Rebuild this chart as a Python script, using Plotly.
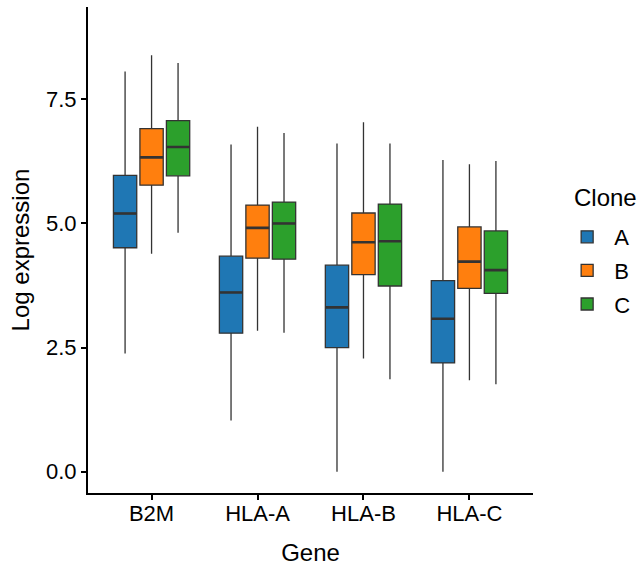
import plotly.graph_objects as go

genes = ["B2M", "HLA-A", "HLA-B", "HLA-C"]
clones = ["A", "B", "C"]
colors = ["#1f77b4", "#ff7f0e", "#2ca02c"]

lower = {"A": [2.38, 1.03, 0.00, 0.00],
         "B": [4.39, 2.84, 2.28, 1.84],
         "C": [4.81, 2.80, 1.86, 1.76]}
q1 = {"A": [4.51, 2.79, 2.50, 2.19],
      "B": [5.77, 4.30, 3.97, 3.69],
      "C": [5.96, 4.28, 3.74, 3.59]}
med = {"A": [5.20, 3.61, 3.31, 3.08],
       "B": [6.33, 4.91, 4.62, 4.23],
       "C": [6.54, 5.00, 4.64, 4.06]}
q3 = {"A": [5.97, 4.34, 4.16, 3.85],
      "B": [6.91, 5.37, 5.21, 4.93],
      "C": [7.07, 5.43, 5.39, 4.85]}
upper = {"A": [8.06, 6.59, 6.61, 6.28],
         "B": [8.39, 6.95, 7.04, 6.19],
         "C": [8.23, 6.82, 6.61, 6.26]}

ytickvals = [0, 2.5, 5, 7.5]
yticktext = ["0.0", "2.5", "5.0", "7.5"]

fig = go.Figure()
for c, col in zip(clones, colors):
    fig.add_trace(go.Box(
        x=genes, q1=q1[c], median=med[c], q3=q3[c],
        lowerfence=lower[c], upperfence=upper[c],
        name=c, legendgroup=c, offsetgroup=c, fillcolor=col,
        line=dict(color="#333333", width=1.3),
        whiskerwidth=0, boxpoints=False, hoverinfo="skip",
    ))
# thicker median lines (ggplot fatten) drawn as flat boxes at the median
for c in clones:
    fig.add_trace(go.Box(
        x=genes, q1=med[c], median=med[c], q3=med[c],
        lowerfence=med[c], upperfence=med[c],
        name=c, legendgroup=c, offsetgroup=c, showlegend=False,
        fillcolor="rgba(0,0,0,0)",
        line=dict(color="#333333", width=2.6),
        whiskerwidth=0, boxpoints=False, hoverinfo="skip",
    ))

font = "Liberation Sans, Arial, sans-serif"
fig.update_layout(
    width=637, height=569,
    margin=dict(l=88, r=104, t=7, b=76, autoexpand=False),
    plot_bgcolor="white", paper_bgcolor="white",
    boxmode="group", boxgap=0.25, boxgroupgap=0.12,
    font=dict(family=font, size=22, color="black"),
    legend=dict(
        x=1.061, xanchor="left", y=0.570, yanchor="top",
        font=dict(size=22), tracegroupgap=2, itemwidth=44,
        bgcolor="rgba(0,0,0,0)",
    ),
    annotations=[dict(
        text="Clone", xref="paper", yref="paper", x=1.0876, y=0.609,
        xanchor="left", yanchor="middle", showarrow=False,
        font=dict(size=24, family=font, color="black"),
    )],
    xaxis=dict(
        title=dict(text="Gene", font=dict(size=24), standoff=19),
        range=[-0.6, 3.6], showline=True, linecolor="black", linewidth=2,
        ticks="outside", ticklen=5, tickwidth=1.5, tickcolor="black",
        showgrid=False, zeroline=False, tickfont=dict(size=22),
        ticklabelstandoff=-5,
    ),
    yaxis=dict(
        title=dict(text="Log expression", font=dict(size=24), standoff=10),
        range=[-0.43, 9.36], showline=True, linecolor="black", linewidth=2,
        ticks="outside", ticklen=5, tickwidth=1.5, tickcolor="black",
        tickvals=ytickvals, ticktext=yticktext,
        showgrid=False, zeroline=False, tickfont=dict(size=22),
    ),
)

fig.write_html("out.html")
